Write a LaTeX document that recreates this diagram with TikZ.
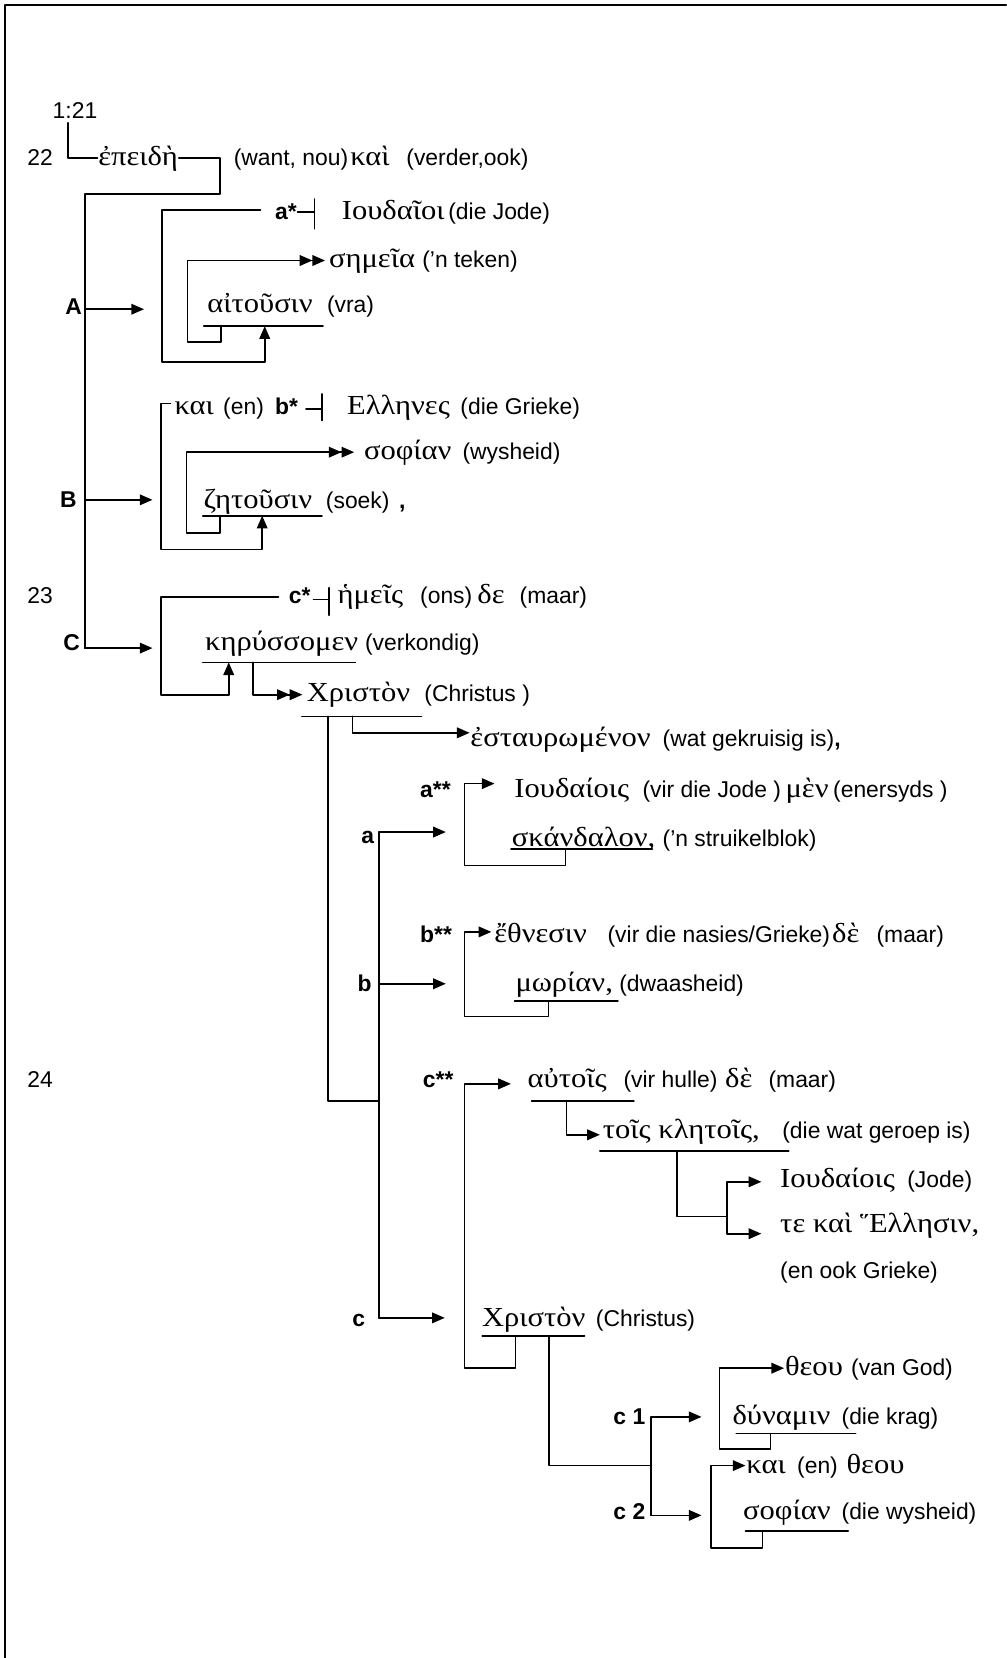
\documentclass[tikz,border=0pt]{standalone}
\usepackage{fontspec}
\setmainfont{Liberation Sans}
\newfontfamily\grfont[Script=Greek,FakeStretch=1.11]{Liberation Serif}
\usetikzlibrary{arrows.meta}
\newcommand{\latsize}{\fontsize{10.8}{13}\selectfont}
\newcommand{\grsize}{\fontsize{13}{15}\selectfont}

\begin{document}
\begin{tikzpicture}[line cap=round,line join=round,>={Triangle[length=6pt,width=5pt]},x=0.5pt,y=-0.5pt,line width=0.8pt,
    lat/.style={font=\latsize},
    gr/.style={font=\grfont\grsize},
    lbl/.style={font=\latsize\bfseries},
    every node/.style={inner sep=0pt,anchor=west,text height=7pt,text depth=0pt}]
    \useasboundingbox (0,0) rectangle (950,1565.7);
    % frame
    \coordinate (fbl) at (5,1566);
    \coordinate (ftl) at (5,5);
    \coordinate (ftr) at (950,5);
    \draw[line width=1.1pt] (fbl) -- (ftl) -- (ftr);

    % verse numbers
    \node[lat] (v121) at (49,105) {1:21};
    \node[lat] (v22) at (25,149) {22};
    \node[lat] (v23) at (25,563) {23};
    \node[lat] (v24) at (25,1020) {24};

    % verse 22
    \node[gr] (epeidh) at (92,149) {ἐπειδὴ};
    \node[lat] (want) at (220,149) {(want, nou)};
    \node[gr] (kai1) at (330,149) {καὶ};
    \node[lat] (verder) at (383,149) {(verder,ook)};

    \node[lbl] (astar) at (259,200) {a*};
    \node[gr] (ioudaioi) at (322,200) {Ιουδαῖοι};
    \node[lat] (jode) at ([xshift=1]ioudaioi.east) {(die Jode)};
    \node[gr] (shmeia) at (310,246) {σημεῖα};
    \node[lat] (teken) at (398,246) {(’n teken)};
    \node[lbl] (lA) at (61,290) {A};
    \node[gr] (aitousin) at (195,288) {αἰτοῦσιν};
    \node[lat] (vra) at (308,288) {(vra)};

    \node[gr] (kai2) at (164,384) {και};
    \node[lat] (en1) at (210,384) {(en)};
    \node[lbl] (bstar) at (259,384) {b*};
    \node[gr] (hellhnes) at (327,384) {Ελληνες};
    \node[lat] (grieke) at (434,384) {(die Grieke)};
    \node[gr] (sofian1) at (343,427) {σοφίαν};
    \node[lat] (wysheid) at (436,427) {(wysheid)};
    \node[lbl] (lB) at (56,472) {B};
    \node[gr] (zhtousin) at (191.5,473) {ζητοῦσιν};
    \node[lat] (soek) at (307,473) {(soek)};
    \node[lbl] (komma) at (376,473) {,};

    % verse 23
    \node[lbl] (cstar) at (272,563) {c*};
    \node[gr] (hmeis) at (318,563) {ἡμεῖς};
    \node[lat] (ons) at (396,563) {(ons)};
    \node[gr] (de1) at (450,563) {δε};
    \node[lat] (maar1) at (490,563) {(maar)};
    \node[lbl] (lC) at (59,607) {C};
    \node[gr] (khrussomen) at (193,607) {κηρύσσομεν};
    \node[lat] (verkondig) at (344,607) {(verkondig)};
    \node[gr] (xriston1) at (289,655) {Χριστὸν};
    \node[lat] (christus1) at (400,655) {(Christus )};
    \node[gr] (estaur) at (443.5,698) {ἐσταυρωμένον};
    \node[lat] (gekruisig) at (625,698) {(wat gekruisig is)\textbf{,}};

    \node[lbl] (a2star) at (396,746) {a**};
    \node[gr] (ioudaiois1) at (485,746) {Ιουδαίοις};
    \node[lat] (virjode) at (606,746) {(vir die Jode )};
    \node[gr] (men) at (741,746) {μὲν};
    \node[lat] (enersyds) at (786,746) {(enersyds )};
    \node[lbl] (la) at (340.5,790) {a};
    \node[gr] (skandalon) at (482.6,792) {σκάνδαλον,};
    \node[lat] (struikel) at (625,792) {(’n struikelblok)};

    \node[lbl] (b2star) at (396,883) {b**};
    \node[gr] (ethnesin) at (466,883) {ἔθνεσιν};
    \node[lat] (nasies) at (573,883) {(vir die nasies/Grieke)};
    \node[gr] (de2) at (785,883) {δὲ};
    \node[lat] (maar2) at (827,883) {(maar)};
    \node[lbl] (lb) at (337,929) {b};
    \node[gr] (mwrian) at (486,929) {μωρίαν,};
    \node[lat] (dwaas) at (584,929) {(dwaasheid)};

    % verse 24
    \node[lbl] (c2star) at (398.6,1020) {c**};
    \node[gr] (autois) at (497.5,1020) {αὐτοῖς};
    \node[lat] (hulle) at (588,1020) {(vir hulle)};
    \node[gr] (de3) at (684,1020) {δὲ};
    \node[lat] (maar3) at (725,1020) {(maar)};
    \node[gr] (toiskl) at (568.5,1068) {τοῖς κλητοῖς,};
    \node[lat] (geroep) at (738,1068) {(die wat geroep is)};
    \node[gr] (ioudaiois2) at (736,1114) {Ιουδαίοις};
    \node[lat] (jode2) at (856,1114) {(Jode)};
    \node[gr] (tekai) at (736,1157) {τε καὶ Ἕλλησιν,};
    \node[lat] (enook) at (736,1200) {(en ook Grieke)};

    \node[lbl] (lc) at (332,1246) {c};
    \node[gr] (xriston2) at (454.5,1246) {Χριστὸν};
    \node[lat] (christus2) at (562,1246) {(Christus)};
    \node[gr] (theou1) at (740.5,1292) {θεου};
    \node[lat] (god) at (803,1292) {(van God)};
    \node[lbl] (lc1) at (578.5,1338) {c 1};
    \node[gr] (dunamin) at (691,1338) {δύναμιν};
    \node[lat] (krag) at (794,1338) {(die krag)};
    \node[gr] (kai3) at (704,1384) {και};
    \node[lat] (en2) at (752,1384) {(en)};
    \node[gr] (theou2) at (798.6,1384) {θεου};
    \node[lbl] (lc2) at (578.5,1428) {c 2};
    \node[gr] (sofian2) at (701,1428) {σοφίαν};
    \node[lat] (dwysheid) at (794,1428) {(die wysheid)};

    % main bar A B C
    \coordinate (k0) at (64,116);
    \coordinate (k1) at (208,183);
    \coordinate (k2) at (80,612);
    \draw (k0) |- (epeidh.west);
    \draw (epeidh.east) -| (k1) -| (k2);
    \coordinate (jA) at (80,292);
    \coordinate (tA) at (136,292);
    \coordinate (jB) at (80,472);
    \coordinate (tB) at (144,472);
    \coordinate (tC) at (144,612);
    \draw[->] (jA) -- (tA);
    \draw[->] (jB) -- (tB);
    \draw[->] (k2) -- (tC);

    % group A
    \coordinate (a1) at (246,198);
    \coordinate (a2) at (153,342);
    \coordinate (a3) at (250,308);
    \coordinate (a4) at (281,200);
    \coordinate (a5) at (297,188);
    \coordinate (a6) at (297,216);
    \coordinate (a7) at (208.5,308);
    \coordinate (a8) at (177,323);
    \coordinate (a9) at (307,246);
    \coordinate (u1) at (192.5,308);
    \coordinate (u2) at (305,308);
    \draw[->] (a1) -| (a2) -| (a3);
    \draw (a4) -- (a4 -| a5) (a5) -- (a6);
    \draw (u1) -- (u2);
    \draw[->>] (a7) |- (a8) |- (a9);

    % group B
    \coordinate (b1) at (161,381);
    \coordinate (b2) at (152,519);
    \coordinate (b3) at (247.6,487);
    \coordinate (b4) at (289,386);
    \coordinate (b5) at (304,372);
    \coordinate (b6) at (304,397);
    \coordinate (b7) at (208,487);
    \coordinate (b8) at (176,503);
    \coordinate (b9) at (334.5,427);
    \coordinate (u3) at (191.5,487);
    \coordinate (u4) at (304,487);
    \draw[->] (b1) -| (b2) -| (b3);
    \draw (b4) -- (b4 -| b5) (b5) -- (b6);
    \draw (u3) -- (u4);
    \draw[->>] (b7) |- (b8) |- (b9);

    % group C
    \coordinate (c1) at (263,564);
    \coordinate (c2) at (152,656);
    \coordinate (c3) at (216,625.5);
    \coordinate (c4) at (296,566);
    \coordinate (c5) at (311,555);
    \coordinate (c6) at (311,581);
    \coordinate (c7) at (239,625.5);
    \coordinate (c8) at (285.6,656);
    \coordinate (u5) at (191.5,625.5);
    \coordinate (u6) at (335.6,625.5);
    \draw[->] (c1) -| (c2) -| (c3);
    \draw (c4) -- (c4 -| c5) (c5) -- (c6);
    \draw (u5) -- (u6);
    \draw[->>] (c7) |- (c8);

    % Christus and a b c
    \coordinate (u7) at (285,676.5);
    \coordinate (u8) at (398,676.5);
    \coordinate (d1) at (309.6,676.5);
    \coordinate (d2) at (357.8,1040);
    \coordinate (d3) at (333,676.5);
    \coordinate (d4) at (443.5,692);
    \draw (u7) -- (u8);
    \draw (d1) |- (d2);
    \draw[->] (d3) |- (d4);
    \coordinate (e1) at (357.8,785.7);
    \coordinate (e2) at (357.8,1244.5);
    \coordinate (eb) at (357.8,929);
    \coordinate (ta) at (421,785.7);
    \coordinate (tb) at (421,929);
    \coordinate (tc) at (420,1244.5);
    \draw (e1) -- (e2);
    \draw[->] (e1) -- (ta);
    \draw[->] (eb) -- (tb);
    \draw[->] (e2) -- (tc);

    % a** and b**
    \coordinate (f2) at (467,740);
    \coordinate (f4) at (534,802);
    \coordinate (f5) at (438.6,817.4);
    \coordinate (u9) at (482.6,802);
    \coordinate (u10) at (616,802);
    \draw (u9) -- (u10);
    \draw[->] (f4) |- (f5) |- (f2);
    \coordinate (g2) at (464,880);
    \coordinate (g4) at (518,945);
    \coordinate (g5) at (438.6,960);
    \coordinate (u11) at (486,945);
    \coordinate (u12) at (583.5,945);
    \draw (u11) -- (u12);
    \draw[->] (g4) |- (g5) |- (g2);

    % c**
    \coordinate (h2) at (482.5,1023.5);
    \coordinate (h4) at (486.8,1261.4);
    \coordinate (h5) at (438.6,1292);
    \coordinate (h6) at (535,1040);
    \coordinate (h7) at (566.5,1071.6);
    \coordinate (h8) at (639.5,1087);
    \coordinate (h9) at (686.7,1148.7);
    \coordinate (i1) at (719,1116);
    \coordinate (i2) at (719,1165);
    \coordinate (i3) at (686.7,1165);
    \coordinate (u13) at (502,1040);
    \coordinate (u14) at (598.6,1040);
    \coordinate (u15) at (566.5,1087);
    \coordinate (u16) at (744.8,1087);
    \draw (u13) -- (u14);
    \draw (u15) -- (u16);
    \draw[->] (h4) |- (h5) |- (h2);
    \draw[->] (h6) |- (h7);
    \draw (h8) |- (h9);
    \draw[<->] (i1) -| (i3) -- (i2);

    % c1 and c2
    \coordinate (u17) at (455.4,1261.4);
    \coordinate (u18) at (552,1261.4);
    \coordinate (k5) at (518.2,1261.4);
    \coordinate (k6) at (615,1384);
    \coordinate (k7) at (615,1338);
    \coordinate (k8) at (615,1431);
    \coordinate (k9) at (662.5,1338);
    \coordinate (k10) at (662.5,1431);
    \draw (u17) -- (u18);
    \draw (k5) |- (k6);
    \draw (k7) -- (k8);
    \draw[->] (k7) -- (k9);
    \draw[->] (k8) -- (k10);
    \coordinate (m2) at (740.5,1292);
    \coordinate (m4) at (727.6,1353.8);
    \coordinate (m5) at (679.4,1368);
    \coordinate (u19) at (695.3,1353.8);
    \coordinate (u20) at (808,1353.8);
    \draw (u19) -- (u20);
    \draw[->] (m4) |- (m5) |- (m2);
    \coordinate (n2) at (704,1384);
    \coordinate (n4) at (720,1446);
    \coordinate (n5) at (671.7,1461.6);
    \coordinate (u21) at (704,1446);
    \coordinate (u22) at (801,1446);
    \draw (u21) -- (u22);
    \draw[->] (n4) |- (n5) |- (n2);
  \end{tikzpicture}
\end{document}
